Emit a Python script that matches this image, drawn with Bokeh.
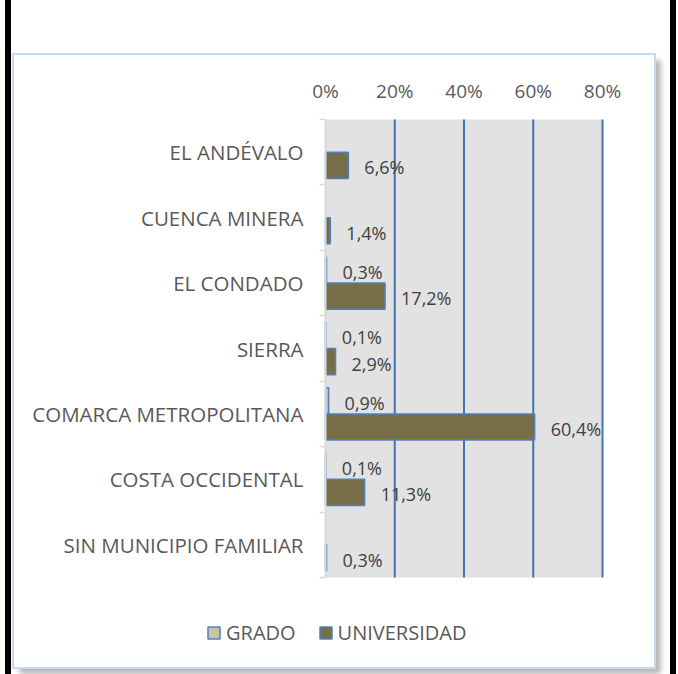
from bokeh.plotting import figure
from bokeh.models import (FixedTicker, Range1d, ColumnDataSource, GlobalInlineStyleSheet,
                          BoxAnnotation)
from bokeh.core.properties import value
from bokeh.embed import file_html
from bokeh.resources import INLINE

# ---- data ----
categories = ["EL ANDÉVALO", "CUENCA MINERA", "EL CONDADO", "SIERRA",
              "COMARCA METROPOLITANA", "COSTA OCCIDENTAL", "SIN MUNICIPIO FAMILIAR"]
grado = [None, None, 0.3, 0.1, 0.9, 0.1, None]
universidad = [6.6, 1.4, 17.2, 2.9, 60.4, 11.3, 0.3]
x_ticks = [0, 20, 40, 60, 80]
x_tick_labels = ["0%", "20%", "40%", "60%", "80%"]
series_names = ["GRADO", "UNIVERSIDAD"]

# ---- styles / layout (pixels) ----
FONT = "Open Sans"
GRADO_COLOR = "#CBC49F"
UNI_COLOR = "#776D47"
OUTLINE = "#4F81BD"
GRID_COLOR = "#4472B4"
TEXT = "#595959"
LABEL_TEXT = "#404040"
PLOT_BG = "#E2E2E2"

W, H = 640, 612                 # chart box interior
PL, PR, PT, PB = 311, 588, 64, 522   # plot area in canvas pixels

n = len(categories)
centers = [n - 0.5 - i for i in range(n)]
BAR_H = 0.4
x_lo, x_hi = x_ticks[0], x_ticks[-1]

sx = (PR - PL) / (x_hi - x_lo)
sy = (PB - PT) / n
x_range = Range1d(x_lo - PL / sx, x_hi + (W - PR) / sx)
y_range = Range1d(-(H - PB) / sy, n + PT / sy)

def fmt(v):
    return f"{v:.1f}".replace(".", ",") + "%"

page_css = GlobalInlineStyleSheet(css="""
html, body { background: linear-gradient(to right, white 0px, white 5px, black 5px, black 11px,
  white 11px, white 670px, black 670px, black 676px, white 676px) !important; }
""")

p = figure(width=W, height=H, output_backend="svg", toolbar_location=None,
           x_axis_location="above", x_range=x_range, y_range=y_range,
           min_border=0, margin=(55, 0, 0, 14))
p.styles = {"box-shadow": "0 0 0 2px #C6D9F0, 6px 6px 5px 1px rgba(0,0,0,0.28)"}
p.stylesheets = [page_css]
p.background_fill_color = "white"
p.border_fill_color = "white"
p.outline_line_color = None
p.xgrid.visible = False
p.ygrid.visible = False

# plot-area background
p.add_layout(BoxAnnotation(left=x_lo, right=x_hi, bottom=0, top=n, fill_color=PLOT_BG,
                           fill_alpha=1, line_color=None, level="underlay"))

# x axis (top of plot area)
p.xaxis.fixed_location = n
p.xaxis.bounds = (x_lo, x_hi)
p.xaxis.ticker = FixedTicker(ticks=x_ticks)
p.xaxis.major_label_overrides = {t: l for t, l in zip(x_ticks, x_tick_labels)}
p.xaxis.axis_line_color = None
p.xaxis.major_tick_line_color = None
p.xaxis.minor_tick_line_color = None
p.xaxis.major_label_text_font = FONT
p.xaxis.major_label_text_font_size = "19px"
p.xaxis.major_label_text_color = TEXT
p.xaxis.major_label_standoff = 10

# y axis (left of plot area)
p.yaxis.fixed_location = x_lo
p.yaxis.bounds = (0, n)
p.yaxis.ticker = FixedTicker(ticks=centers, minor_ticks=list(range(n + 1)))
p.yaxis.major_label_overrides = {c: cat for c, cat in zip(centers, categories)}
p.yaxis.axis_line_color = "#D9D9D9"
p.yaxis.axis_line_width = 2
p.yaxis.major_tick_line_color = None
p.yaxis.major_tick_out = 0
p.yaxis.major_tick_in = 0
p.yaxis.minor_tick_line_color = "#D9D9D9"
p.yaxis.minor_tick_line_width = 1.5
p.yaxis.minor_tick_out = 6
p.yaxis.minor_tick_in = 0
p.yaxis.major_label_text_font = FONT
p.yaxis.major_label_text_font_size = "20.5px"
p.yaxis.major_label_text_color = TEXT
p.yaxis.major_label_standoff = 16

# vertical grid lines
p.segment(x0=x_ticks[1:], y0=0, x1=x_ticks[1:], y1=n, line_color=GRID_COLOR, line_width=2)

# bars
g_idx = [i for i, v in enumerate(grado) if v is not None]
g_src = ColumnDataSource(dict(
    y=[centers[i] + BAR_H / 2 for i in g_idx],
    v=[grado[i] for i in g_idx],
    lab=[fmt(grado[i]) for i in g_idx]))
u_src = ColumnDataSource(dict(
    y=[c - BAR_H / 2 for c in centers],
    v=universidad,
    lab=[fmt(v) for v in universidad]))

p.hbar(y="y", left=0, right="v", height=BAR_H, source=g_src,
       fill_color=GRADO_COLOR, line_color=OUTLINE, line_width=1.5, legend_label=series_names[0])
p.hbar(y="y", left=0, right="v", height=BAR_H, source=u_src,
       fill_color=UNI_COLOR, line_color=OUTLINE, line_width=1.5, legend_label=series_names[1])

for src in (g_src, u_src):
    p.text(x="v", y="y", text="lab", source=src, x_offset=16, y_offset=2,
           text_baseline="middle", text_align="left", text_font=value(FONT),
           text_font_size="18px", text_color=LABEL_TEXT)

# legend
lg = p.legend[0]
lg.orientation = "horizontal"
lg.location = (192, 21)
lg.background_fill_alpha = 0
lg.border_line_color = None
lg.padding = 0
lg.margin = 0
lg.spacing = 22
lg.glyph_width = 15
lg.glyph_height = 15
lg.label_standoff = 5
lg.label_text_font = FONT
lg.label_text_font_size = "20px"
lg.label_text_color = TEXT

open("out.html", "w").write(file_html(p, INLINE))
